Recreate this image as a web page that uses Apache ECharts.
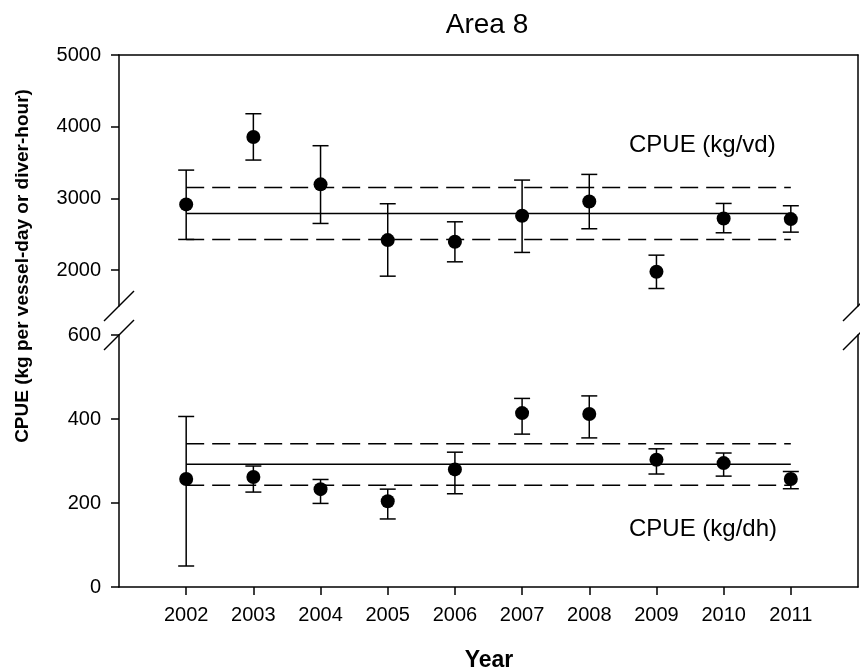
<!DOCTYPE html>
<html>
<head>
<meta charset="utf-8">
<script src="https://cdn.jsdelivr.net/npm/echarts@6/dist/echarts.min.js"></script>
<style>
  html, body { margin: 0; padding: 0; background: #fff; }
  #chart { width: 860px; height: 670px; }
</style>
</head>
<body>
<div id="chart"></div>
<script>
// Survey years
const years = [2002, 2003, 2004, 2005, 2006, 2007, 2008, 2009, 2010, 2011];

// CPUE per vessel-day (kg/vd): yearly estimate with lower/upper error limits
const vdValue = [2917, 3856, 3196, 2419, 2395, 2758, 2958, 1977, 2721, 2712];
const vdLower = [2428, 3535, 2651, 1916, 2116, 2247, 2577, 1744, 2521, 2530];
const vdUpper = [3395, 4181, 3735, 2926, 2674, 3256, 3335, 2209, 2930, 2898];
// Long-term mean and its confidence band (kg/vd)
const vdMean = 2791;
const vdBand = [2428, 3154];

// CPUE per diver-hour (kg/dh)
const dhValue = [257, 262, 233, 204, 280, 414, 412, 303, 295, 257];
const dhLower = [50, 226, 199, 162, 222, 364, 355, 269, 264, 234];
const dhUpper = [406, 288, 256, 233, 321, 449, 455, 329, 319, 275];
const dhMean = 292;
const dhBand = [242, 341];

// Tick labels of the broken y axis
const upperTicks = [2000, 3000, 4000, 5000];
const lowerTicks = [0, 200, 400, 600];

const FONT = '"Liberation Sans", Arial, Helvetica, sans-serif';
const INK = '#000';

const chart = echarts.init(document.getElementById('chart'), null, { renderer: 'canvas' });

function errorBars(gridIdx, lower, upper) {
  return {
    type: 'custom',
    xAxisIndex: gridIdx,
    yAxisIndex: gridIdx * 2,
    data: years.map((y, i) => [y, lower[i], upper[i]]),
    renderItem: function (params, api) {
      const x = api.value(0);
      const lo = api.coord([x, api.value(1)]);
      const hi = api.coord([x, api.value(2)]);
      const half = 8;
      const st = { stroke: INK, lineWidth: 1.5 };
      return {
        type: 'group',
        children: [
          { type: 'line', shape: { x1: lo[0], y1: lo[1], x2: hi[0], y2: hi[1] }, style: st },
          { type: 'line', shape: { x1: hi[0] - half, y1: hi[1], x2: hi[0] + half, y2: hi[1] }, style: st },
          { type: 'line', shape: { x1: lo[0] - half, y1: lo[1], x2: lo[0] + half, y2: lo[1] }, style: st }
        ]
      };
    },
    z: 3,
    silent: true
  };
}

function refLine(gridIdx, value, dashed) {
  return {
    type: 'line',
    xAxisIndex: gridIdx,
    yAxisIndex: gridIdx * 2,
    data: [[years[0], value], [years[years.length - 1], value]],
    symbol: 'none',
    lineStyle: { color: INK, width: 1.5, type: dashed ? [18, 8] : 'solid' },
    z: 2,
    silent: true
  };
}

function points(gridIdx, values) {
  return {
    type: 'scatter',
    xAxisIndex: gridIdx,
    yAxisIndex: gridIdx * 2,
    data: years.map((y, i) => [y, values[i]]),
    symbol: 'circle',
    symbolSize: 14,
    itemStyle: { color: INK, opacity: 1 },
    z: 4,
    silent: true
  };
}

const axisLine = { show: true, onZero: false, lineStyle: { color: INK, width: 1.5 } };
const tickLabel = { color: INK, fontSize: 20, fontFamily: FONT, margin: 18, formatter: v => String(v) };

const option = {
  animation: false,
  backgroundColor: '#fff',
  grid: [
    { left: 119, top: 55, width: 739, height: 251 },
    { left: 119, top: 335, width: 739, height: 252 }
  ],
  xAxis: [
    {
      gridIndex: 0, type: 'value', min: 2001, max: 2012, position: 'top',
      axisLine: axisLine, axisTick: { show: false }, axisLabel: { show: false }, splitLine: { show: false }
    },
    {
      gridIndex: 1, type: 'value', min: 2001, max: 2012, position: 'bottom',
      axisLine: axisLine,
      axisTick: { show: true, length: 8, inside: false, customValues: years, lineStyle: { color: INK, width: 1.5 } },
      axisLabel: Object.assign({ customValues: years }, tickLabel),
      splitLine: { show: false }
    }
  ],
  yAxis: [
    {
      gridIndex: 0, type: 'value', min: 1500, max: 5000, position: 'left',
      axisLine: axisLine,
      axisTick: { show: true, length: 8, inside: false, customValues: upperTicks, lineStyle: { color: INK, width: 1.5 } },
      axisLabel: Object.assign({ customValues: upperTicks }, tickLabel),
      splitLine: { show: false }
    },
    {
      gridIndex: 0, type: 'value', min: 1500, max: 5000, position: 'right',
      axisLine: axisLine, axisTick: { show: false }, axisLabel: { show: false }, splitLine: { show: false }
    },
    {
      gridIndex: 1, type: 'value', min: 0, max: 600, position: 'left',
      axisLine: axisLine,
      axisTick: { show: true, length: 8, inside: false, customValues: lowerTicks, lineStyle: { color: INK, width: 1.5 } },
      axisLabel: Object.assign({ customValues: lowerTicks }, tickLabel),
      splitLine: { show: false }
    },
    {
      gridIndex: 1, type: 'value', min: 0, max: 600, position: 'right',
      axisLine: axisLine, axisTick: { show: false }, axisLabel: { show: false }, splitLine: { show: false }
    }
  ],
  series: [
    refLine(0, vdMean, false),
    refLine(0, vdBand[0], true),
    refLine(0, vdBand[1], true),
    errorBars(0, vdLower, vdUpper),
    points(0, vdValue),
    refLine(1, dhMean, false),
    refLine(1, dhBand[0], true),
    refLine(1, dhBand[1], true),
    errorBars(1, dhLower, dhUpper),
    points(1, dhValue)
  ]
};

chart.setOption(option);

// Axis-break marks and text annotations, placed from the axes' own pixel mapping
const upLeftBottom = chart.convertToPixel({ gridIndex: 0 }, [2001, 1500]);
const upRightBottom = chart.convertToPixel({ gridIndex: 0 }, [2012, 1500]);
const loLeftTop = chart.convertToPixel({ gridIndex: 1 }, [2001, 600]);
const loRightTop = chart.convertToPixel({ gridIndex: 1 }, [2012, 600]);

function breakMark(p) {
  return {
    type: 'line',
    shape: { x1: p[0] - 15, y1: p[1] + 15, x2: p[0] + 15, y2: p[1] - 15 },
    style: { stroke: INK, lineWidth: 1.5 },
    z: 10
  };
}

function label(text, x, y, size, weight, align, rotation) {
  return {
    type: 'text',
    x: x, y: y,
    rotation: rotation || 0,
    style: {
      text: text,
      font: (weight || 'normal') + ' ' + size + 'px ' + FONT,
      fill: INK,
      align: align || 'center',
      verticalAlign: 'middle',
      textAlign: align || 'center',
      textVerticalAlign: 'middle'
    },
    z: 10
  };
}

chart.setOption({
  graphic: [
    breakMark(upLeftBottom),
    breakMark(loLeftTop),
    breakMark(upRightBottom),
    breakMark(loRightTop),
    label('Area 8', 487, 25, 28),
    label('CPUE (kg/vd)', 629, 145, 24, 'normal', 'left'),
    label('CPUE (kg/dh)', 629, 529, 24, 'normal', 'left'),
    label('Year', 489, 661, 23, 'bold'),
    label('CPUE (kg per vessel-day or diver-hour)', 23, 266, 19, 'bold', 'center', Math.PI / 2)
  ]
});
</script>
</body>
</html>
